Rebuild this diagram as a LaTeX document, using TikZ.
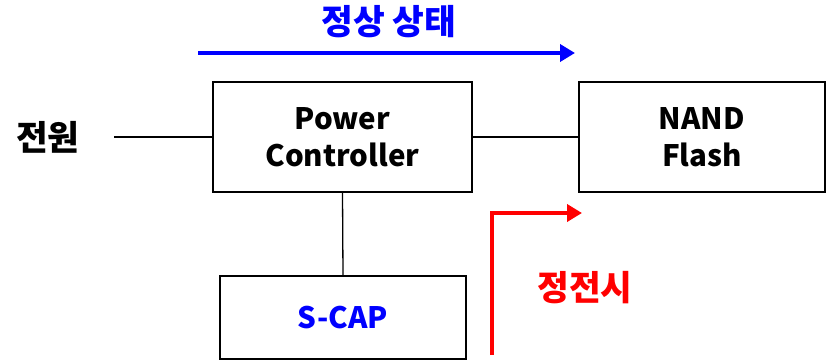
\documentclass[tikz,border=0pt]{standalone}
\usepackage{fontspec}
\setmainfont{Noto Sans CJK KR}
\usetikzlibrary{arrows.meta, positioning}
\definecolor{nblue}{HTML}{0000FF}
\definecolor{nred}{HTML}{FF0000}
\definecolor{ink}{HTML}{000000}

\begin{document}
\begin{tikzpicture}[x=1pt, y=-1pt, >={Triangle[length=15pt, width=17pt]},
  block/.style={draw=ink, line width=1.6pt, align=center, font=\fontsize{29.5}{37}\selectfont\bfseries, inner sep=0pt},
  hangul/.style={font=\fontsize{34.5}{40}\selectfont\bfseries, inner sep=0pt},
  wire/.style={draw=ink, line width=1.3pt},
  flow/.style={->, line width=4pt}]

\useasboundingbox (0,0) rectangle (828,361);

% Blocks
\node[block, minimum width=259pt, minimum height=110pt] (pc) at (342.5,137) {Power\\Controller};
\node[block, minimum width=246pt, minimum height=110pt] (nand) at (702,137) {NAND\\Flash};
\node[block, minimum width=246pt, minimum height=83pt, text=nblue] (scap) at (343,317.5) {S-CAP};

% Power input
\node[hangul] (src) at (48,137) {전원};
\coordinate (srcend) at (114,137);

% Wires
\draw[wire] (srcend) -- (pc.west);
\draw[wire] (pc.east) -- (nand.west);
\draw[wire] (pc.south) -- (scap.north);

% Normal state
\node[hangul, text=nblue] (normal) at (389,22) {정상 상태};
\coordinate (nstart) at (198,53);
\coordinate (nend) at (575,53);
\draw[flow, nblue] (nstart) -- (nend);

% Power failure
\node[hangul, text=nred] (outage) at (585,288) {정전시};
\coordinate (ostart) at (492,355);
\coordinate (oend) at (582,213);
\draw[flow, nred] (ostart) |- (oend);

\end{tikzpicture}
\end{document}
